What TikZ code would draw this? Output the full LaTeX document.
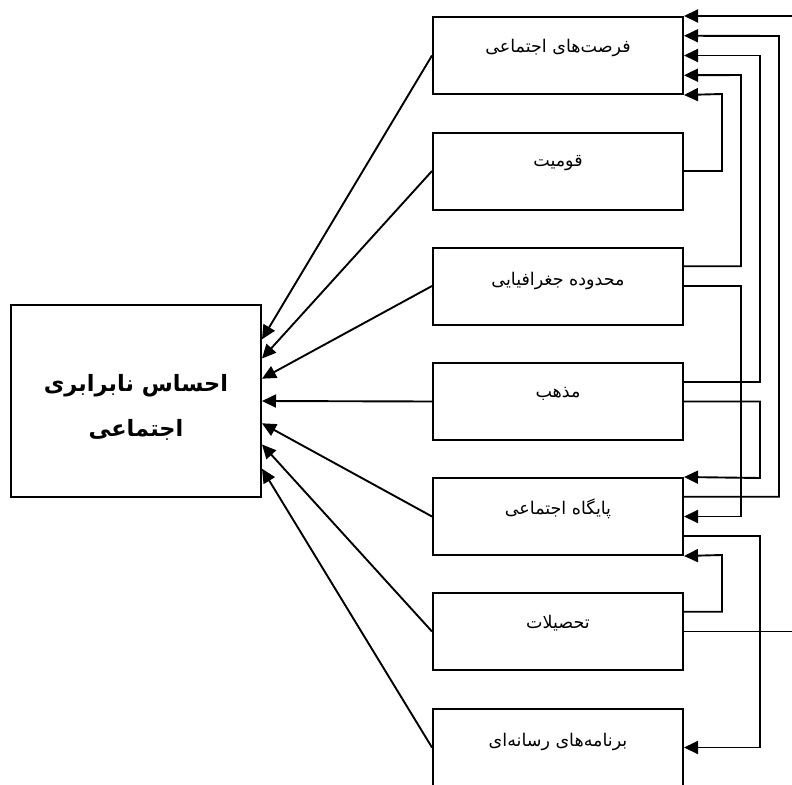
\documentclass[tikz,border=0pt]{standalone}
\usepackage{fontspec}
\usetikzlibrary{arrows.meta,calc}
\TeXXeTstate=1
\newfontfamily\arabicfont[Script=Arabic]{DejaVu Sans}
\tikzset{
  box/.style={draw, line width=2pt, minimum width=250pt, minimum height=77pt, inner sep=0pt},
  lab/.style={font=\arabicfont\fontsize{17.5}{21}\selectfont, inner sep=0pt},
  con/.style={line width=1.9pt},
  arr/.style={con, -{Triangle[length=14pt,width=13pt]}},
}
\begin{document}
\begin{tikzpicture}[x=1pt,y=-1pt]
\useasboundingbox (0,0) rectangle (792,784);
\clip (0,0) rectangle (792,784);
% main box
\node[box, minimum width=250pt, minimum height=192pt] (main) at (136,401) {};
\node[align=center, inner sep=0pt, font=\arabicfont\bfseries\fontsize{22.5}{45}\selectfont] (mainlab) at (136,407)
  {\beginR احساس نابرابری\endR\\\beginR اجتماعی\endR};
% factor boxes
\node[box] (b1) at (558,55.5) {};
\node[box] (b2) at (558,171) {};
\node[box] (b3) at (558,286) {};
\node[box] (b4) at (558,401.5) {};
\node[box] (b5) at (558,516.5) {};
\node[box] (b6) at (558,631.5) {};
\node[box] (b7) at (558,747.5) {};
\node[lab] (l1) at ($(b1.center)+(0,-8)$) {\beginR فرصت‌های اجتماعی\endR};
\node[lab] (l2) at ($(b2.center)+(0,-8)$) {\beginR قومیت\endR};
\node[lab] (l3) at ($(b3.center)+(0,-5)$) {\beginR محدوده جغرافیایی\endR};
\node[lab] (l4) at ($(b4.center)+(0,-8)$) {\beginR مذهب\endR};
\node[lab] (l5) at ($(b5.center)+(0,-8)$) {\beginR پایگاه اجتماعی\endR};
\node[lab] (l6) at ($(b6.center)+(0,-8)$) {\beginR تحصیلات\endR};
\node[lab] (l7) at ($(b7.center)+(0,-6)$) {\beginR برنامه‌های رسانه‌ای\endR};
% arrows into main box
\draw[arr] (b1.west) -- ($(main.north east)!0.182!(main.south east)$);
\draw[arr] (b2.west) -- ($(main.north east)!0.281!(main.south east)$);
\draw[arr] (b3.west) -- ($(main.north east)!0.385!(main.south east)$);
\draw[arr] (b4.west) -- ($(main.north east)!0.5!(main.south east)$);
\draw[arr] (b5.west) -- ($(main.north east)!0.615!(main.south east)$);
\draw[arr] (b6.west) -- ($(main.north east)!0.724!(main.south east)$);
\draw[arr] (b7.west) -- ($(main.north east)!0.849!(main.south east)$);
% right side feedback connectors
\draw[arr] (b6.east) -- (800,631.5) |- (b1.north east);
\draw[arr] ($(b5.north east)!0.25!(b5.south east)$) -| (779,36) -- ($(b1.north east)!0.25!(b1.south east)$);
\draw[arr] ($(b4.north east)!0.25!(b4.south east)$) -| (760,55.5) -- (b1.east);
\draw[arr] ($(b3.north east)!0.25!(b3.south east)$) -| (741,75) -- ($(b1.north east)!0.75!(b1.south east)$);
\draw[arr] (b2.east) -| (722,94) -- (b1.south east);
\draw[arr] (b4.east) -| (760,478) -- (b5.north east);
\draw[arr] (b3.east) -| (741,516.5) -- (b5.east);
\draw[arr] ($(b5.north east)!0.75!(b5.south east)$) -| (760,747.5) -- (b7.east);
\draw[arr] ($(b6.north east)!0.25!(b6.south east)$) -| (722,555) -- (b5.south east);
\end{tikzpicture}
\end{document}
